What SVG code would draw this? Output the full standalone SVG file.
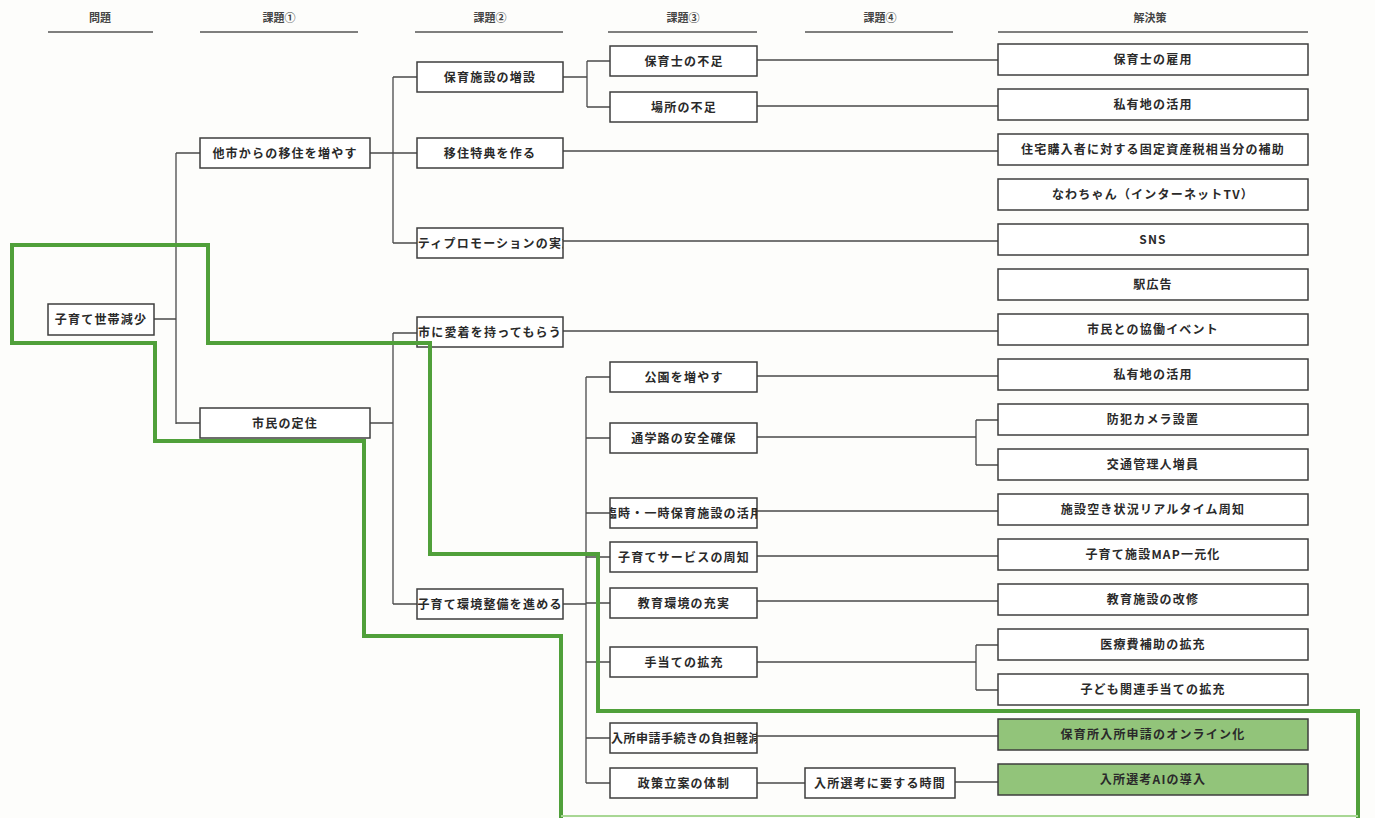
<svg xmlns="http://www.w3.org/2000/svg" width="1375" height="818" viewBox="0 0 1375 818">
<style>
  .bg{fill:#fdfdfb}
  .box rect{fill:#ffffff;stroke:#3e3e3e;stroke-width:1.5}
  .box.hl rect{fill:#92c47a}
  .box text{font-family:"Noto Sans CJK JP","Liberation Sans",sans-serif;font-size:12px;font-weight:700;fill:#2a2a2a;text-anchor:middle;letter-spacing:1.2px}
  .box text.tight{letter-spacing:0.5px}
  .hdr text{font-family:"Noto Sans CJK JP","Liberation Sans",sans-serif;font-size:11px;font-weight:700;fill:#444;text-anchor:middle}
  .hdr line{stroke:#555;stroke-width:1.5}
  .conn path{fill:none;stroke:#4a4a4a;stroke-width:1.3}
  .green{fill:none;stroke:#50a03a;stroke-width:4;stroke-linejoin:miter}
</style>
<defs>
  <clipPath id="c1"><rect x="417" y="228" width="146" height="30"/></clipPath>
  <clipPath id="c2"><rect x="610" y="498" width="147" height="30"/></clipPath>
  <clipPath id="c3"><rect x="610" y="723" width="147" height="30"/></clipPath>
</defs>
<rect class="bg" x="0" y="0" width="1375" height="818"/>

<g id="headers" class="hdr">
  <text x="100" y="22">問題</text><line x1="48" y1="32" x2="153" y2="32"/>
  <text x="279" y="22">課題①</text><line x1="200" y1="32" x2="358" y2="32"/>
  <text x="490" y="22">課題②</text><line x1="415" y1="32" x2="563" y2="32"/>
  <text x="683" y="22">課題③</text><line x1="608" y1="32" x2="757" y2="32"/>
  <text x="880" y="22">課題④</text><line x1="805" y1="32" x2="953" y2="32"/>
  <text x="1150" y="22">解決策</text><line x1="998" y1="32" x2="1308" y2="32"/>
</g>

<g id="connectors" class="conn">
  <path d="M154 319 H176 M176 153 V424 M176 153 H200 M176 423 H200"/>
  <path d="M370 153 H393 M393 77 V243 M393 77 H417 M393 153 H417 M393 243 H417"/>
  <path d="M370 423 H393 M393 333 V604 M393 333 H417 M393 604 H417"/>
  <path d="M563 77 H587 M587 61 V107 M587 61 H610 M587 107 H610"/>
  <path d="M563 604 H586 M586 377 V783 M586 377 H610 M586 438 H610 M586 513 H610 M586 557 H610 M586 603 H610 M586 662 H610 M586 738 H610 M586 783 H610"/>
  <path d="M757 60 H998 M757 106 H998 M563 151 H998 M563 241 H998 M563 331 H998"/>
  <path d="M757 376 H998 M757 437 H976 M976 420 V465 M976 420 H998 M976 465 H998"/>
  <path d="M757 511 H998 M757 556 H998 M757 601 H998"/>
  <path d="M757 662 H976 M976 645 V690 M976 645 H998 M976 690 H998"/>
  <path d="M757 736 H998 M757 783 H805 M955 782 H998"/>
</g>

<g id="n-root" class="box"><rect x="48" y="304" width="106" height="31"/><text x="101" y="324">子育て世帯減少</text></g>

<g id="n-tashi" class="box"><rect x="200" y="138" width="170" height="30"/><text x="285" y="158">他市からの移住を増やす</text></g>
<g id="n-teiju" class="box"><rect x="200" y="408" width="170" height="30"/><text x="285" y="428">市民の定住</text></g>

<g id="n-zousetsu" class="box"><rect x="417" y="62" width="146" height="30"/><text x="490" y="82">保育施設の増設</text></g>
<g id="n-tokuten" class="box"><rect x="417" y="138" width="146" height="30"/><text x="490" y="158">移住特典を作る</text></g>
<g id="n-citypro" class="box"><rect x="417" y="228" width="146" height="30"/><text x="490" y="248" clip-path="url(#c1)">シティプロモーションの実施</text></g>
<g id="n-aichaku" class="box"><rect x="417" y="317" width="146" height="30"/><text x="490" y="337">市に愛着を持ってもらう</text></g>
<g id="n-kankyo" class="box"><rect x="417" y="589" width="146" height="30"/><text x="490" y="609">子育て環境整備を進める</text></g>

<g id="n-hoikushi" class="box"><rect x="610" y="46" width="147" height="30"/><text x="684" y="66">保育士の不足</text></g>
<g id="n-basho" class="box"><rect x="610" y="92" width="147" height="30"/><text x="684" y="112">場所の不足</text></g>
<g id="n-koen" class="box"><rect x="610" y="362" width="147" height="30"/><text x="684" y="382">公園を増やす</text></g>
<g id="n-tsugaku" class="box"><rect x="610" y="423" width="147" height="30"/><text x="684" y="443">通学路の安全確保</text></g>
<g id="n-rinji" class="box"><rect x="610" y="498" width="147" height="30"/><text x="684" y="518" clip-path="url(#c2)">臨時・一時保育施設の活用</text></g>
<g id="n-service" class="box"><rect x="610" y="542" width="147" height="30"/><text x="684" y="562">子育てサービスの周知</text></g>
<g id="n-kyoiku" class="box"><rect x="610" y="588" width="147" height="30"/><text x="684" y="608">教育環境の充実</text></g>
<g id="n-teate" class="box"><rect x="610" y="647" width="147" height="30"/><text x="684" y="667">手当ての拡充</text></g>
<g id="n-nyusho" class="box"><rect x="610" y="723" width="147" height="30"/><text class="tight" x="686" y="743" clip-path="url(#c3)">入所申請手続きの負担軽減</text></g>
<g id="n-seisaku" class="box"><rect x="610" y="768" width="147" height="30"/><text x="684" y="788">政策立案の体制</text></g>

<g id="n-senko" class="box"><rect x="805" y="768" width="150" height="30"/><text x="880" y="788">入所選考に要する時間</text></g>

<g id="s01" class="box"><rect x="998" y="44" width="310" height="31"/><text x="1153" y="64">保育士の雇用</text></g>
<g id="s02" class="box"><rect x="998" y="89" width="310" height="31"/><text x="1153" y="109">私有地の活用</text></g>
<g id="s03" class="box"><rect x="998" y="134" width="310" height="31"/><text x="1153" y="154">住宅購入者に対する固定資産税相当分の補助</text></g>
<g id="s04" class="box"><rect x="998" y="179" width="310" height="31"/><text x="1153" y="199">なわちゃん（インターネットTV）</text></g>
<g id="s05" class="box"><rect x="998" y="224" width="310" height="31"/><text x="1153" y="244">SNS</text></g>
<g id="s06" class="box"><rect x="998" y="269" width="310" height="31"/><text x="1153" y="289">駅広告</text></g>
<g id="s07" class="box"><rect x="998" y="314" width="310" height="31"/><text x="1153" y="334">市民との協働イベント</text></g>
<g id="s08" class="box"><rect x="998" y="359" width="310" height="31"/><text x="1153" y="379">私有地の活用</text></g>
<g id="s09" class="box"><rect x="998" y="404" width="310" height="31"/><text x="1153" y="424">防犯カメラ設置</text></g>
<g id="s10" class="box"><rect x="998" y="449" width="310" height="31"/><text x="1153" y="469">交通管理人増員</text></g>
<g id="s11" class="box"><rect x="998" y="494" width="310" height="31"/><text x="1153" y="514">施設空き状況リアルタイム周知</text></g>
<g id="s12" class="box"><rect x="998" y="539" width="310" height="31"/><text x="1153" y="559">子育て施設MAP一元化</text></g>
<g id="s13" class="box"><rect x="998" y="584" width="310" height="31"/><text x="1153" y="604">教育施設の改修</text></g>
<g id="s14" class="box"><rect x="998" y="629" width="310" height="31"/><text x="1153" y="649">医療費補助の拡充</text></g>
<g id="s15" class="box"><rect x="998" y="674" width="310" height="31"/><text x="1153" y="694">子ども関連手当ての拡充</text></g>
<g id="s16" class="box hl"><rect x="998" y="719" width="310" height="31"/><text x="1153" y="739">保育所入所申請のオンライン化</text></g>
<g id="s17" class="box hl"><rect x="998" y="764" width="310" height="31"/><text x="1153" y="784">入所選考AIの導入</text></g>

<g id="highlight">
  <path class="green" d="M561 818 V636 H364 V441 H155 V343 H12 V245 H208 V343 H430 V554 H598 V711 H1358 V818"/>
  <line x1="561" y1="816" x2="1358" y2="816" stroke="#a8d794" stroke-width="2"/>
</g>
</svg>
